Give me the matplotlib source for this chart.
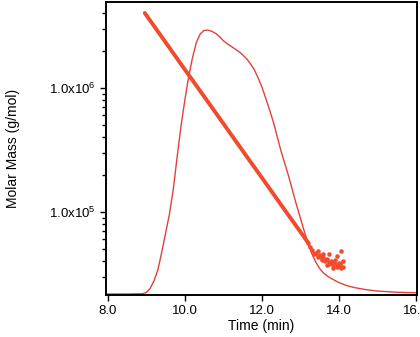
import matplotlib
matplotlib.use('Agg')
import matplotlib.pyplot as plt
from matplotlib.ticker import FixedLocator, LogLocator, NullFormatter, NullLocator

plt.rcParams['font.family'] = ['Liberation Sans', 'DejaVu Sans']
plt.rcParams['mathtext.fontset'] = 'custom'
plt.rcParams['mathtext.rm'] = 'Liberation Sans'
plt.rcParams['mathtext.it'] = 'Liberation Sans'

# Molar mass trace (straight part, log-linear)
mm_time = [8.96, 9.0, 9.5, 10.0, 10.5, 11.0, 11.5, 12.0, 12.5, 13.0, 13.2]
mm_value = [4.03e6, 3.87e6, 2.34e6, 1.41e6, 8.55e5, 5.17e5, 3.12e5, 1.89e5,
            1.14e5, 6.91e4, 5.65e4]

# Molar mass noisy tail (connected)
tail_time = [13.2, 13.25, 13.3, 13.35, 13.4, 13.45, 13.5, 13.55, 13.6, 13.65,
             13.7, 13.75, 13.8, 13.85, 13.9, 13.95, 14.0, 14.05, 14.1]
tail_value = [5.65e4, 5.2e4, 4.9e4, 4.6e4, 4.7e4, 4.3e4, 4.5e4, 4.1e4, 4.3e4,
              4.0e4, 4.2e4, 3.8e4, 4.0e4, 3.7e4, 4.1e4, 3.6e4, 3.9e4, 3.5e4, 4.0e4]

# Stray points around the tail
stray_time = [13.45, 13.6, 13.75, 13.85, 13.95, 14.05, 14.1, 13.7]
stray_value = [4.8e4, 4.6e4, 4.6e4, 3.5e4, 4.4e4, 4.8e4, 3.6e4, 3.7e4]

# Concentration trace (relative)
conc_time = [8.0, 8.5, 8.9, 9.0, 9.1, 9.2, 9.3, 9.4, 9.5, 9.6, 9.7, 9.8, 9.9,
             10.0, 10.1, 10.2, 10.3, 10.4, 10.5, 10.6, 10.7, 10.8, 10.9, 11.0,
             11.1, 11.2, 11.3, 11.4, 11.5, 11.6, 11.7, 11.8, 11.9, 12.0, 12.1,
             12.2, 12.3, 12.4, 12.5, 12.6, 12.7, 12.8, 12.9, 13.0, 13.1, 13.2,
             13.3, 13.4, 13.5, 13.6, 13.7, 13.8, 14.0, 14.2, 14.4, 14.7, 15.0,
             15.5, 16.03]
conc_value = [0.003, 0.003, 0.004, 0.008, 0.022, 0.048, 0.085, 0.145, 0.21,
              0.275, 0.36, 0.47, 0.575, 0.664, 0.745, 0.81, 0.862, 0.891,
              0.903, 0.904, 0.9, 0.893, 0.882, 0.868, 0.858, 0.849, 0.84,
              0.831, 0.82, 0.807, 0.79, 0.77, 0.742, 0.71, 0.672, 0.632, 0.59,
              0.54, 0.49, 0.447, 0.403, 0.355, 0.307, 0.263, 0.218, 0.175,
              0.14, 0.112, 0.09, 0.075, 0.064, 0.056, 0.042, 0.032, 0.025,
              0.018, 0.013, 0.009, 0.007]

fig = plt.figure(figsize=(4.2, 3.37), dpi=100)
ax = fig.add_axes([0.252, 0.125, 0.741, 0.869])
ax2 = ax.twinx()
ax2.set_zorder(ax.get_zorder() - 1)
ax.patch.set_visible(False)

ax2.plot(conc_time, conc_value, color='#e2403c', lw=1.0)
ax2.set_ylim(0, 1)
ax2.yaxis.set_major_locator(NullLocator())
ax2.tick_params(right=False, labelright=False)

ax.plot(mm_time, mm_value, color='#f24a2c', lw=2.8, solid_capstyle='round')
ax.plot(tail_time, tail_value, color='#f24a2c', lw=1.5)
ax.scatter(tail_time + stray_time, tail_value + stray_value,
           color='#f24a2c', s=5, zorder=3)

ax.set_yscale('log')
ax.set_xlim(7.95, 16.03)
ax.set_ylim(2.14e4, 4.94e6)

ax.xaxis.set_major_locator(FixedLocator([8, 10, 12, 14, 16]))
ax.set_xticklabels(['8.0', '10.0', '12.0', '14.0', '16.0'])
ax.yaxis.set_major_locator(FixedLocator([1e5, 1e6]))
ax.set_yticklabels([r'1.0x10$^{5}$', r'1.0x10$^{6}$'])
ax.yaxis.set_minor_locator(LogLocator(base=10, subs=range(2, 10)))
ax.yaxis.set_minor_formatter(NullFormatter())

ax.tick_params(axis='both', which='major', labelsize=9.5, length=4, width=1,
               direction='out', colors='black')
ax.tick_params(axis='y', which='minor', length=3, width=1)
for s in ax.spines.values():
    s.set_linewidth(1.2)
for s in ax2.spines.values():
    s.set_linewidth(1.2)

ax.set_xlabel('Time (min)', fontsize=10, labelpad=1)
ax.set_ylabel('Molar Mass (g/mol)', fontsize=10, labelpad=21)

fig.savefig('out.png', dpi=100)
